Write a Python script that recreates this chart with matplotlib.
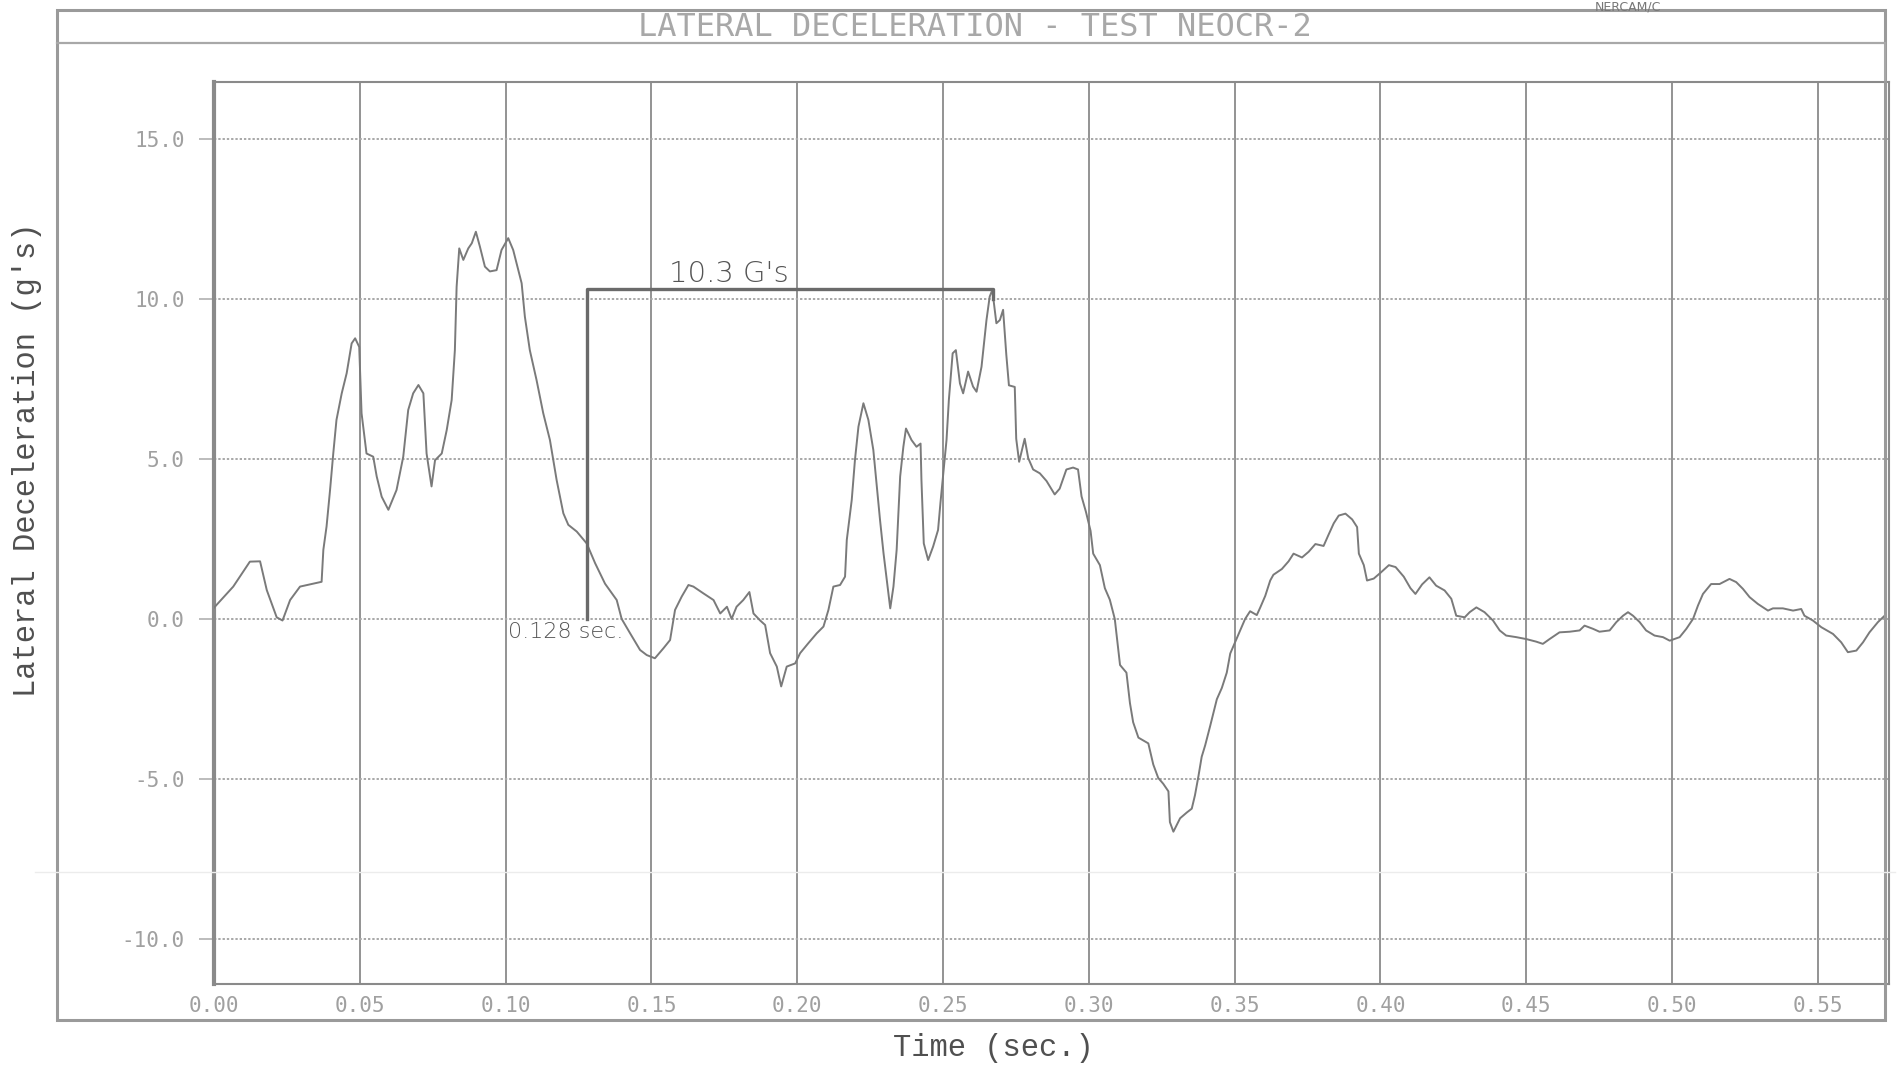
import matplotlib
matplotlib.use("Agg")
import matplotlib.pyplot as plt
from matplotlib.patches import Rectangle
from matplotlib.lines import Line2D

# ---- data ----
time_s = [0.000, 0.0066, 0.0123, 0.0158, 0.0181, 0.0215, 0.0235, 0.0261, 0.0295, 0.034, 0.0369,
          0.0375, 0.0386, 0.0398, 0.0409, 0.042, 0.0438, 0.0455, 0.0472, 0.0484, 0.0498,
          0.0506, 0.0523, 0.0546, 0.0558, 0.0575, 0.0598, 0.0626, 0.0649, 0.0666, 0.0683,
          0.0701, 0.0718, 0.0729, 0.0746, 0.0758, 0.0781, 0.0798, 0.0815, 0.0826, 0.0832,
          0.0841, 0.0855, 0.0872, 0.0884, 0.0898, 0.0912, 0.0929, 0.0946, 0.0969, 0.0986,
          0.1009, 0.1026, 0.1055, 0.1066, 0.1083, 0.1106, 0.1129, 0.1152, 0.1175, 0.1198,
          0.1215, 0.1244, 0.1278, 0.1307, 0.1341, 0.1381, 0.1398,
          0.1427, 0.1461, 0.1484, 0.1512, 0.1541, 0.1564, 0.1581, 0.1604, 0.1627, 0.1644,
          0.1678, 0.1713, 0.1736, 0.1759, 0.1775, 0.1792, 0.1815, 0.1836, 0.185, 0.1873,
          0.189, 0.1907, 0.193, 0.1945, 0.1964, 0.1993, 0.201, 0.2038, 0.2067, 0.209,
          0.2107, 0.2124, 0.2147, 0.2164, 0.217, 0.2187, 0.2198, 0.221, 0.2227, 0.2244,
          0.2261, 0.2273, 0.2284, 0.2296, 0.2307, 0.2319, 0.233, 0.2341, 0.2353, 0.2364,
          0.2373, 0.2392, 0.2409, 0.2423, 0.2426, 0.2434, 0.2449, 0.2466, 0.2483, 0.2491,
          0.25, 0.2512, 0.252, 0.2533, 0.2544, 0.2558, 0.2569, 0.2586, 0.2603, 0.2615,
          0.2632, 0.2649, 0.266, 0.2669, 0.2683, 0.2695, 0.2706,
          0.2717, 0.2726, 0.2746, 0.2751, 0.2761, 0.278, 0.2792, 0.2809, 0.2832, 0.2855,
          0.2883, 0.29, 0.2923, 0.2946, 0.2963, 0.2975, 0.299, 0.3006, 0.3015, 0.3038,
          0.3055, 0.3072, 0.3089, 0.3095, 0.3107, 0.3129, 0.3141, 0.3152, 0.317, 0.3204,
          0.3221, 0.3238, 0.3255, 0.3273, 0.3278, 0.329, 0.3313, 0.3336, 0.3353, 0.3364,
          0.3376, 0.3387, 0.3399, 0.3416, 0.3439, 0.3456, 0.3473, 0.3485, 0.3502, 0.3519,
          0.3536, 0.3553, 0.3576, 0.3588, 0.3605, 0.3622, 0.3633, 0.3662, 0.3685, 0.3702,
          0.3731, 0.3754, 0.3777, 0.3805, 0.3822, 0.384, 0.3857, 0.388, 0.3903, 0.392,
          0.3926, 0.3943, 0.3954, 0.3977, 0.4, 0.4029, 0.4052, 0.408, 0.4103, 0.412, 0.4143,
          0.4168, 0.4191, 0.422, 0.4243, 0.426, 0.4289, 0.4306, 0.4329, 0.4357, 0.4386,
          0.4409, 0.4431, 0.4466, 0.45, 0.4534, 0.4557, 0.458, 0.4614, 0.4649, 0.4683,
          0.47, 0.4729, 0.4751, 0.4786, 0.4809, 0.4832, 0.4849, 0.4866, 0.4889, 0.4911,
          0.494, 0.4969, 0.4992, 0.5026, 0.5049, 0.5072, 0.5089, 0.5106, 0.5134, 0.5163,
          0.5197, 0.522, 0.5243, 0.5266, 0.5294, 0.5329, 0.5346, 0.538, 0.5415, 0.5443,
          0.5454, 0.5483, 0.5512, 0.5552, 0.558, 0.5603, 0.5632, 0.5655, 0.5677, 0.5706,
          0.5729]
accel_g = [0.35, 1.01, 1.79, 1.8, 0.9, 0.05, -0.05, 0.59, 1.01, 1.1, 1.16,
           2.16, 2.89, 4.03, 5.17, 6.22, 7.05, 7.68, 8.61, 8.77, 8.5,
           6.43, 5.17, 5.07, 4.45, 3.82, 3.41, 4.03, 5.07, 6.53, 7.05,
           7.31, 7.05, 5.17, 4.14, 4.96, 5.17, 5.9, 6.84, 8.4, 10.38,
           11.58, 11.22, 11.58, 11.74, 12.1, 11.63, 11.01, 10.86, 10.9, 11.53,
           11.9, 11.53, 10.49, 9.45, 8.4, 7.47, 6.43, 5.59, 4.34, 3.3,
           2.94, 2.73, 2.36, 1.74, 1.1, 0.59, 0.0,
           -0.45, -0.97, -1.13, -1.23, -0.92, -0.66, 0.28, 0.7, 1.06, 1.01,
           0.8, 0.59, 0.17, 0.38, 0.0, 0.38, 0.59, 0.84, 0.17, -0.05,
           -0.19, -1.07, -1.49, -2.11, -1.49, -1.39, -1.07, -0.76, -0.45, -0.24,
           0.28, 1.01, 1.06, 1.32, 2.47, 3.72, 4.97, 6.01, 6.74, 6.22,
           5.28, 4.14, 3.09, 2.05, 1.22, 0.33, 1.01, 2.16, 4.45, 5.38,
           5.95, 5.59, 5.38, 5.48, 4.34, 2.36, 1.84, 2.26, 2.78, 3.61,
           4.45, 5.59, 6.84, 8.3, 8.4, 7.36, 7.05, 7.73, 7.26, 7.1,
           7.88, 9.34, 10.07, 10.28, 9.24, 9.34, 9.66,
           8.26, 7.3, 7.25, 5.63, 4.91, 5.63, 5.03, 4.67, 4.55, 4.31,
           3.89, 4.07, 4.67, 4.73, 4.67, 3.83, 3.35, 2.75, 2.04, 1.68,
           0.96, 0.6, 0.0, -0.48, -1.44, -1.68, -2.63, -3.23, -3.71, -3.89,
           -4.55, -4.97, -5.15, -5.39, -6.35, -6.65, -6.23, -6.05, -5.93, -5.51,
           -4.91, -4.31, -3.95, -3.35, -2.51, -2.16, -1.68, -1.08, -0.72, -0.36,
           0.0, 0.24, 0.12, 0.36, 0.72, 1.2, 1.38, 1.56, 1.8, 2.04,
           1.92, 2.1, 2.34, 2.28, 2.63, 2.99, 3.23, 3.29, 3.11, 2.87,
           2.04, 1.68, 1.2, 1.26, 1.44, 1.68, 1.62, 1.32, 0.96, 0.78, 1.08,
           1.3, 1.04, 0.89, 0.63, 0.1, 0.05, 0.21, 0.36, 0.21, -0.05,
           -0.36, -0.52, -0.57, -0.63, -0.71, -0.78, -0.63, -0.42, -0.4, -0.36,
           -0.21, -0.31, -0.4, -0.36, -0.1, 0.1, 0.21, 0.1, -0.1, -0.36,
           -0.52, -0.57, -0.68, -0.57, -0.31, 0.0, 0.42, 0.78, 1.09, 1.09,
           1.25, 1.15, 0.94, 0.68, 0.47, 0.26, 0.33, 0.33, 0.26, 0.31,
           0.1, -0.05, -0.26, -0.47, -0.73, -1.04, -0.99, -0.73, -0.42, -0.1,
           0.1]

x_ticks = [0.00, 0.05, 0.10, 0.15, 0.20, 0.25, 0.30, 0.35, 0.40, 0.45, 0.50, 0.55]
x_tick_labels = ["0.00", "0.05", "0.10", "0.15", "0.20", "0.25", "0.30", "0.35",
                 "0.40", "0.45", "0.50", "0.55"]
y_ticks = [-10.0, -5.0, 0.0, 5.0, 10.0, 15.0]
y_tick_labels = ["-10.0", "-5.0", "0.0", "5.0", "10.0", "15.0"]

pulse_start = 0.128
pulse_end = 0.267
pulse_level = 10.3

title = "LATERAL DECELERATION - TEST NEOCR-2"
x_label = "Time (sec.)"
y_label = "Lateral Deceleration (g's)"
pulse_text = "10.3 G's"
start_text = "0.128 sec."
corner_text = "NERCAM/C"

# ---- figure ----
W, H = 1898, 1067
fig = plt.figure(figsize=(W / 100, H / 100), dpi=100)
fig.patch.set_facecolor("white")


def fx(px):
    return px / W


def fy(py):
    return 1 - py / H


ax = fig.add_axes([fx(214), fy(984), fx(1889) - fx(214), fy(82) - fy(984)])
ax.set_xlim(0.0, 0.5744)
ax.set_ylim(-11.41, 16.78)

# grid
for xt in x_ticks[1:]:
    ax.axvline(xt, color="#8a8a8a", lw=1.3, zorder=1)
for yt in y_ticks:
    ax.axhline(yt, color="#a8a8a8", lw=1.4, ls=(0, (1.2, 1.0)), zorder=1)

# curve
ax.plot(time_s, accel_g, color="#7a7a7a", lw=1.4, zorder=3)

# pulse bracket annotation
ax.plot([pulse_start, pulse_start, pulse_end, pulse_end],
        [0.0, pulse_level, pulse_level, pulse_level - 0.3],
        color="#6a6a6a", lw=2.4, zorder=4)
ax.text(0.156, pulse_level + 0.05, pulse_text, fontsize=21, color="#555555",
        family="DejaVu Sans", ha="left", va="bottom", fontweight="light")
ax.text(0.1008, -0.42, start_text, fontsize=16, color="#555555",
        family="DejaVu Sans", ha="left", va="center", fontweight="light")

# ticks
ax.set_xticks(x_ticks)
ax.set_xticklabels(x_tick_labels)
ax.set_yticks(y_ticks)
ax.set_yticklabels(y_tick_labels)
ax.tick_params(axis="x", length=0, pad=9, labelsize=15, labelcolor="#a0a0a0")
ax.tick_params(axis="y", length=11, width=1.2, color="#b0b0b0", pad=10,
               labelsize=15, labelcolor="#a0a0a0")
for lab in ax.get_xticklabels() + ax.get_yticklabels():
    lab.set_family("DejaVu Sans Mono")

for side, sp in ax.spines.items():
    sp.set_color("#8a8a8a")
    sp.set_linewidth(1.5)
ax.spines["left"].set_linewidth(3.0)

# axis labels (outside the frame)
fig.text(fx(993), fy(1048), x_label, ha="center", va="center", fontsize=22,
         family="Liberation Mono", color="#505050")
fig.text(fx(27), fy(460), y_label, ha="center", va="center", rotation=90,
         fontsize=22, family="Liberation Mono", color="#505050")

# outer frame and title band
fig.add_artist(Rectangle((fx(57), fy(1020)), fx(1885) - fx(57), fy(10) - fy(1020),
                         fill=False, ec="#9a9a9a", lw=2.2, transform=fig.transFigure))
fig.add_artist(Line2D([fx(57), fx(1885)], [fy(43), fy(43)], color="#a8a8a8", lw=1.6,
                      transform=fig.transFigure))
fig.add_artist(Line2D([fx(1885), fx(1885)], [fy(43), fy(80)], color="#a8a8a8", lw=1.4,
                      transform=fig.transFigure))
fig.add_artist(Line2D([fx(35), fx(1895)], [fy(872), fy(872)], color="#ececec", lw=1.0,
                      transform=fig.transFigure))
fig.text(fx(975), fy(27), title, ha="center", va="center", fontsize=23,
         family="DejaVu Sans Mono", color="#a8a8a8")
fig.text(fx(1628), fy(1), corner_text, ha="center", va="top", fontsize=9,
         family="DejaVu Sans", color="#777777")

fig.savefig("out.png", dpi=100, facecolor="white")
